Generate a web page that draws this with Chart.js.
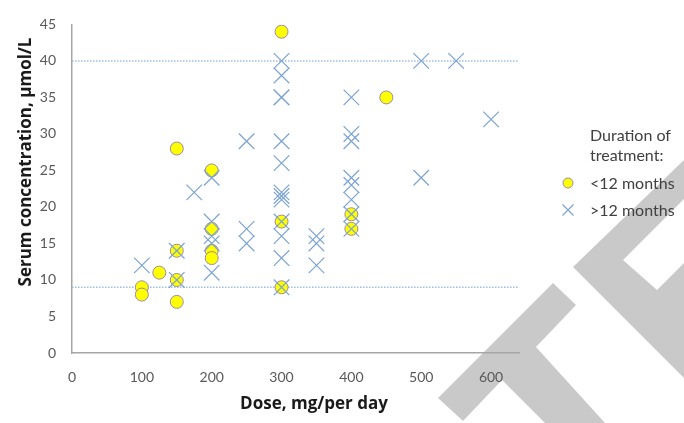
<!DOCTYPE html>
<html>
<head>
<meta charset="utf-8">
<script src="https://cdn.jsdelivr.net/npm/chart.js@4.4.1/dist/chart.umd.min.js"></script>
<style>
  html, body { margin: 0; padding: 0; background: #fff; }
  #wrap { position: relative; width: 684px; height: 423px; overflow: hidden; }
  #mark, #chart, #legend { position: absolute; left: 0; top: 0; }
  .lg { position: absolute; left: 590px; font-family: Lato, sans-serif; font-size: 16px; color: #404040; line-height: 20px; white-space: nowrap; }
  .ttl { position: absolute; font-family: "Open Sans", sans-serif; font-weight: bold; font-size: 17px; color: #1a1a1a; white-space: nowrap; line-height: 20px; }
  #ytitle { left: 25px; top: 162px; transform: translate(-50%, -50%) rotate(-90deg); }
  #xtitle { left: 314px; top: 403px; transform: translate(-50%, -50%); }
</style>
</head>
<body>
<div id="wrap">
  <!-- grey watermark behind the chart -->
  <svg id="mark" width="684" height="423">
    <path fill="#c9c9c9" d="M438 398 L553 283 L576 305 L536 347 L605 423 L545 423 L502 380 L463 421 Z"/>
    <path fill="#c9c9c9" fill-rule="evenodd" d="M684 160 L573 267 L684 378 Z M623 260 L684 199 L684 263 L657 290 Z"/>
  </svg>
  <canvas id="chart" width="684" height="423"></canvas>
  <svg id="legend" width="684" height="423">
    <circle cx="568" cy="183" r="5" fill="#ffff00" stroke="#9c8aa8" stroke-width="1"/>
    <path d="M562.5 204.5 L573.5 215.5 M573.5 204.5 L562.5 215.5" stroke="#7ba3d4" stroke-width="1.2" fill="none"/>
  </svg>
  <div class="lg" style="top:125px">Duration of<br>treatment:</div>
  <div class="lg" style="top:173px">&lt;12 months</div>
  <div class="lg" style="top:200px">&gt;12 months</div>
  <div class="ttl" id="ytitle">Serum concentration, µmol/L</div>
  <div class="ttl" id="xtitle">Dose, mg/per day</div>
</div>
<script>
// <12 months of treatment
const shortDose = [100, 100, 125, 150, 150, 150, 150, 200, 200, 200, 200, 300, 300, 300, 400, 400, 450];
const shortConc = [9, 8, 11, 28, 14, 10, 7, 25, 17, 14, 13, 44, 18, 9, 19, 17, 35];

// >12 months of treatment
const longDose = [100, 150, 150, 175, 200, 200, 200, 200, 200, 250, 250, 250,
  300, 300, 300, 300, 300, 300, 300, 300, 300, 300, 300, 300, 300,
  350, 350, 350, 400, 400, 400, 400, 400, 400, 400, 400, 500, 500, 550, 600];
const longConc = [12, 14, 10, 22, 24, 18, 16, 15, 11, 29, 17, 15,
  40, 38, 35, 35, 29, 26, 22, 21.5, 21, 18, 16, 13, 9,
  16, 15, 12, 35, 30, 29, 24, 23, 21, 19, 17, 40, 24, 40, 32];

// reference range lines
const refLevels = [9, 40];

const doseMin = 0, doseMax = 640;
const xTicksStep = 100;
const yMax = 45, yStep = 5;

const family = 'Lato, sans-serif';

const toPts = (xs, ys) => xs.map((x, i) => ({ x: x, y: ys[i] }));

const refSets = refLevels.map(v => ({
  label: 'ref ' + v,
  data: [{ x: doseMin, y: v }, { x: doseMax, y: v }],
  showLine: true,
  pointRadius: 0,
  borderColor: '#9dbde3',
  borderWidth: 1.5,
  borderDash: [1.5, 1.5],
  order: 2
}));

const ctx = document.getElementById('chart').getContext('2d');
new Chart(ctx, {
  type: 'scatter',
  data: {
    datasets: [
      {
        label: '>12 months',
        data: toPts(longDose, longConc),
        pointStyle: 'crossRot',
        pointRadius: 11,
        borderColor: '#7ba3d4',
        borderWidth: 1.2,
        order: 0
      },
      {
        label: '<12 months',
        data: toPts(shortDose, shortConc),
        pointStyle: 'circle',
        pointRadius: 6.5,
        backgroundColor: '#ffff00',
        borderColor: '#9c8aa8',
        borderWidth: 1,
        order: 1
      },
      ...refSets
    ]
  },
  options: {
    responsive: false,
    animation: false,
    layout: { padding: { left: 10, right: 165, top: 14, bottom: 0 } },
    plugins: { legend: { display: false }, tooltip: { enabled: false } },
    scales: {
      x: {
        type: 'linear',
        min: doseMin,
        max: doseMax,
        grid: { display: false, drawTicks: false },
        border: { color: '#a6a6a6', width: 1.5 },
        ticks: { stepSize: xTicksStep, includeBounds: false, padding: 16, color: '#595959', font: { family: family, size: 14 } },
        afterFit: s => { s.height = 70; }
      },
      y: {
        min: 0,
        max: yMax,
        grid: { display: false, drawTicks: false },
        border: { color: '#a6a6a6', width: 1.5 },
        ticks: { stepSize: yStep, padding: 16, color: '#595959', font: { family: family, size: 14 } },
        afterFit: s => { s.width = 62; }
      }
    }
  }
});
</script>
</body>
</html>
